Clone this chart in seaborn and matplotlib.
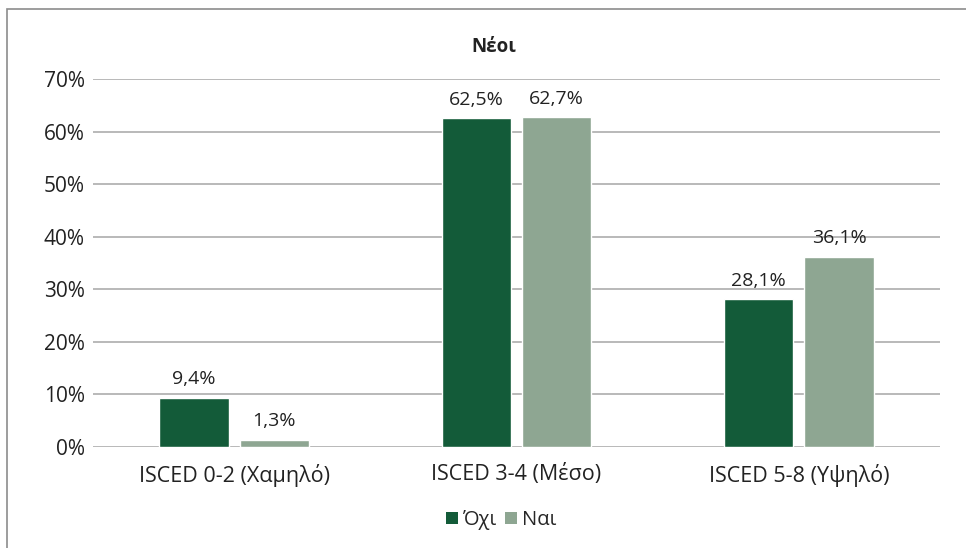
import matplotlib
matplotlib.use("Agg")
import matplotlib.pyplot as plt
import seaborn as sns
import pandas as pd
from matplotlib.patches import Rectangle, Patch

categories = ["ISCED 0-2 (Χαμηλό)", "ISCED 3-4 (Μέσο)", "ISCED 5-8 (Υψηλό)"]
series_names = ["Όχι", "Ναι"]
oxi_values = [0.094, 0.625, 0.281]
nai_values = [0.013, 0.627, 0.361]
yticks = [0, 0.1, 0.2, 0.3, 0.4, 0.5, 0.6, 0.7]
colors = ["#135b39", "#8ea692"]

df = pd.DataFrame({
    "cat": categories * 2,
    "group": [series_names[0]] * 3 + [series_names[1]] * 3,
    "value": oxi_values + nai_values,
})

sns.set_style("white")
plt.rcParams["font.family"] = ["Open Sans", "DejaVu Sans"]

fig = plt.figure(figsize=(9.66, 5.48), dpi=100)
ax = fig.add_axes([93 / 966, 1 - 447 / 548, (940 - 93) / 966, (447 - 79) / 548])

sns.barplot(data=df, x="cat", y="value", hue="group", palette=colors,
            width=0.57, gap=0.14, ax=ax, legend=False, errorbar=None,
            saturation=1, zorder=3)

ax.set_ylim(0, 0.7)
ax.set_xlim(-0.5, 2.5)
ax.set_yticks(yticks)
ax.set_yticklabels([f"{int(round(t * 100))}%" for t in yticks], fontsize=15, color="#222222")
ax.tick_params(axis="x", labelsize=15.5, colors="#222222", length=0, pad=12)
ax.tick_params(axis="y", length=0, pad=6)
ax.set_xlabel("")
ax.set_ylabel("")
for s in ax.spines.values():
    s.set_visible(False)
ax.yaxis.grid(True, color="#a6a6a6", linewidth=1.1, zorder=0)
ax.set_axisbelow(True)

for cont in ax.containers:
    labels = [f"{v * 100:.1f}%".replace(".", ",") for v in cont.datavalues]
    ax.bar_label(cont, labels=labels, padding=7, fontsize=14, color="#222222")

fig.text(494 / 966, 1 - 47 / 548, "Νέοι", ha="center", va="center",
         fontsize=13.5, fontweight="bold", color="#222222")

handles = [Patch(facecolor=c, edgecolor="none") for c in colors]
fig.legend(handles, series_names, loc="center", bbox_to_anchor=(501 / 966, 1 - 520 / 548),
           ncol=2, frameon=False, fontsize=14.5, handlelength=0.6, handleheight=0.6,
           handletextpad=0.25, columnspacing=0.4)

fig.patches.append(Rectangle((7 / 966, -0.1), 1.2, 1 - 9 / 548 + 0.1,
                             transform=fig.transFigure, fill=False,
                             edgecolor="#8c8c8c", linewidth=1.2))

fig.savefig("out.png", dpi=100)
